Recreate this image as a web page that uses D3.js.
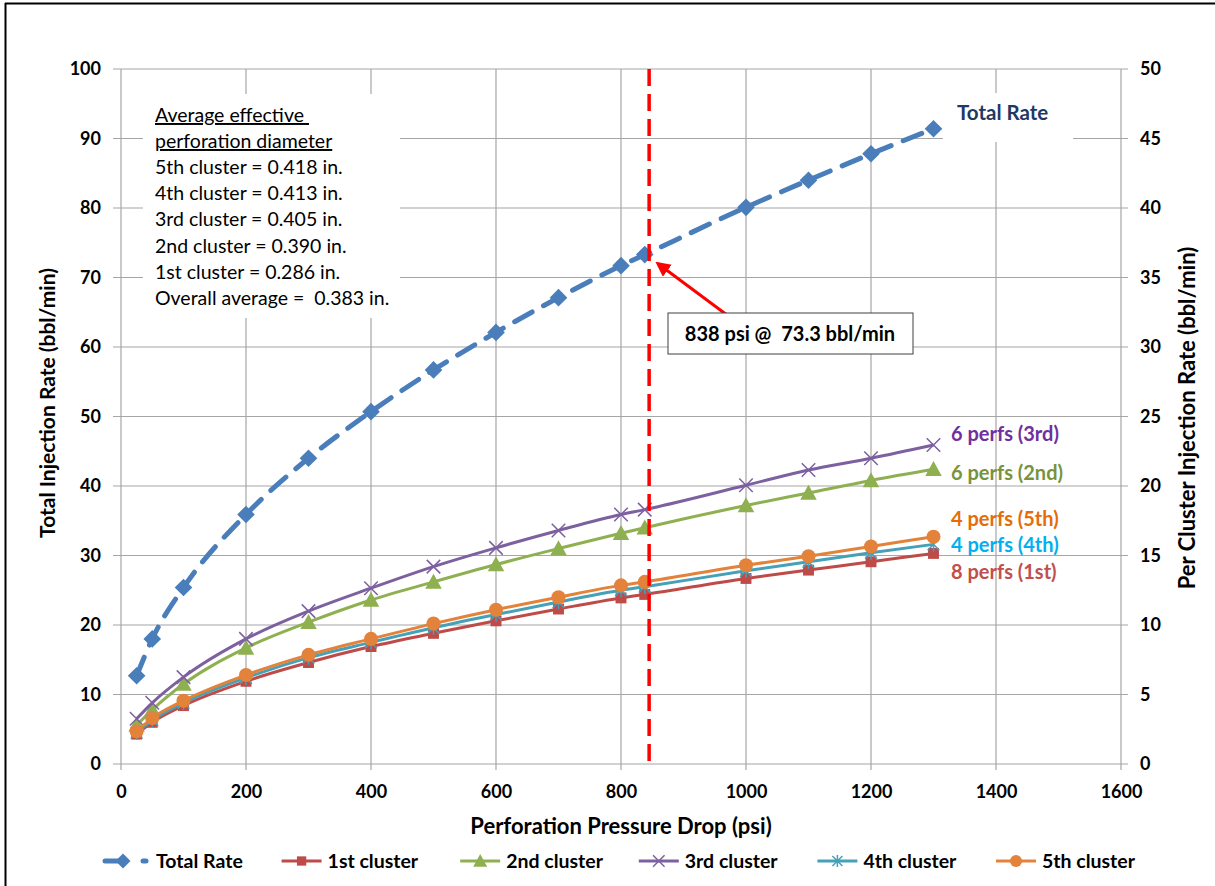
<!DOCTYPE html>
<html lang="en">
<head>
<meta charset="UTF-8">
<title>Perforation Pressure Drop vs Injection Rate</title>
<style>
body {
    margin: 0;
    background-color: #fff;
    font-family: Lato, "Open Sans", sans-serif;
}
text {
    white-space: pre;
}
</style>
</head>
<body>
<div id="plot"></div>
<script src="https://cdn.jsdelivr.net/npm/d3@7"></script>
<script>

const w = 1215,
      h = 886;

// data
const pressure = [25, 50, 100, 200, 300, 400, 500, 600, 700, 800, 838, 1000, 1100, 1200, 1300];
const totalRate = [12.7, 18.0, 25.4, 35.9, 44.0, 50.7, 56.7, 62.1, 67.1, 71.7, 73.3, 80.1, 84.0, 87.8, 91.4];
const cluster1 = [2.15, 3.0, 4.2, 5.95, 7.3, 8.45, 9.4, 10.3, 11.15, 11.95, 12.2, 13.35, 13.95, 14.55, 15.15];
const cluster2 = [2.8, 3.9, 5.75, 8.35, 10.2, 11.8, 13.1, 14.35, 15.5, 16.6, 17.0, 18.6, 19.5, 20.4, 21.2];
const cluster3 = [3.25, 4.4, 6.25, 9.0, 11.0, 12.65, 14.2, 15.55, 16.8, 17.95, 18.3, 20.05, 21.15, 22.0, 22.95];
const cluster4 = [2.25, 3.15, 4.4, 6.2, 7.65, 8.75, 9.8, 10.75, 11.65, 12.5, 12.75, 13.9, 14.55, 15.2, 15.8];
const cluster5 = [2.35, 3.3, 4.55, 6.4, 7.85, 9.0, 10.1, 11.1, 12.0, 12.85, 13.1, 14.3, 14.95, 15.65, 16.35];

const xTicks = [0, 200, 400, 600, 800, 1000, 1200, 1400, 1600];
const yTicks = [0, 10, 20, 30, 40, 50, 60, 70, 80, 90, 100];
const y2Ticks = [0, 5, 10, 15, 20, 25, 30, 35, 40, 45, 50];

const diameterNotes = [
    "5th cluster = 0.418 in.",
    "4th cluster = 0.413 in.",
    "3rd cluster = 0.405 in.",
    "2nd cluster = 0.390 in.",
    "1st cluster = 0.286 in.",
    "Overall average =  0.383 in."
];

const series = [
    {name: "Total Rate", values: totalRate, axis: "left", color: "#4A7EBB", marker: "diamond", dashed: true},
    {name: "1st cluster", values: cluster1, axis: "right", color: "#BE4B48", marker: "square"},
    {name: "2nd cluster", values: cluster2, axis: "right", color: "#8FB050", marker: "triangle"},
    {name: "3rd cluster", values: cluster3, axis: "right", color: "#7D60A0", marker: "x"},
    {name: "4th cluster", values: cluster4, axis: "right", color: "#46A0B8", marker: "asterisk"},
    {name: "5th cluster", values: cluster5, axis: "right", color: "#E3823A", marker: "circle"}
];

const seriesLabels = [
    {text: "6 perfs (3rd)", y: 434, color: "#7030A0"},
    {text: "6 perfs (2nd)", y: 473, color: "#77933C"},
    {text: "4 perfs (5th)", y: 519, color: "#E46C0A"},
    {text: "4 perfs (4th)", y: 545, color: "#00B0F0"},
    {text: "8 perfs (1st)", y: 572, color: "#C0504D"}
];

const markPressure = 845;

// set up svg
const svg = d3.select("#plot").append("svg")
    .attr("width", w)
    .attr("height", h);

// outer frame (only top and left edges show)
svg.append("line").attr("x1", 5).attr("x2", w).attr("y1", 3.5).attr("y2", 3.5)
    .attr("stroke", "#000").attr("stroke-width", 2);
svg.append("line").attr("x1", 5.5).attr("x2", 5.5).attr("y1", 3).attr("y2", h)
    .attr("stroke", "#000").attr("stroke-width", 2);

const x = d3.scaleLinear().domain([0, 1600]).range([121, 1121]);
const y = d3.scaleLinear().domain([0, 100]).range([764, 69]);
const y2 = d3.scaleLinear().domain([0, 50]).range([764, 69]);

// gridlines
const grid = svg.append("g").attr("stroke", "#A6A6A6").attr("stroke-width", 1.2);
grid.selectAll(".vgrid")
    .data(xTicks)
    .join("line")
    .attr("class", "vgrid")
    .attr("x1", d => x(d)).attr("x2", d => x(d))
    .attr("y1", y(100)).attr("y2", y(0) + 6);
grid.selectAll(".hgrid")
    .data(yTicks)
    .join("line")
    .attr("class", "hgrid")
    .attr("x1", x(0) - 8).attr("x2", x(1600) + 7)
    .attr("y1", d => y(d)).attr("y2", d => y(d));

// axes
const axisFont = g => g.selectAll("text")
    .attr("font-family", "Lato, sans-serif")
    .attr("font-size", 18)
    .attr("font-weight", "bold")
    .attr("fill", "#000");

svg.append("g")
    .attr("transform", `translate(0,${y(0)})`)
    .call(d3.axisBottom(x).tickValues(xTicks).tickFormat(d3.format("d")).tickSize(0).tickPadding(21))
    .call(g => g.select(".domain").remove())
    .call(axisFont);

svg.append("g")
    .attr("transform", `translate(${x(0)},0)`)
    .call(d3.axisLeft(y).tickValues(yTicks).tickSize(0).tickPadding(20))
    .call(g => g.select(".domain").remove())
    .call(axisFont);

svg.append("g")
    .attr("transform", `translate(${x(1600)},0)`)
    .call(d3.axisRight(y2).tickValues(y2Ticks).tickSize(0).tickPadding(19))
    .call(g => g.select(".domain").remove())
    .call(axisFont);

// axis titles
svg.append("text")
    .attr("x", 621).attr("y", 834)
    .attr("text-anchor", "middle")
    .attr("font-size", 22).attr("font-weight", "bold")
    .text("Perforation Pressure Drop (psi)");

svg.append("text")
    .attr("transform", "translate(55,403) rotate(-90)")
    .attr("text-anchor", "middle")
    .attr("font-size", 21).attr("font-weight", "bold")
    .text("Total Injection Rate (bbl/min)");

svg.append("text")
    .attr("transform", "translate(1195,418) rotate(-90)")
    .attr("text-anchor", "middle")
    .attr("font-size", 22).attr("font-weight", "bold")
    .text("Per Cluster Injection Rate (bbl/min)");

// notes box top-left
svg.append("rect")
    .attr("x", 143).attr("y", 94).attr("width", 257).attr("height", 224)
    .attr("fill", "#fff");
const notes = svg.append("g").attr("font-size", 19.5).attr("fill", "#000");
notes.append("text").attr("x", 155).attr("y", 122).text("Average effective ")
    .attr("text-decoration", "underline");
notes.append("text").attr("x", 155).attr("y", 148).text("perforation diameter")
    .attr("text-decoration", "underline");
notes.selectAll(".note")
    .data(diameterNotes)
    .join("text")
    .attr("class", "note")
    .attr("x", 155)
    .attr("y", (d, i) => 174 + i * 26.2)
    .text(d => d);

// Total Rate label box
svg.append("rect")
    .attr("x", 943).attr("y", 93).attr("width", 130).attr("height", 49)
    .attr("fill", "#fff");
svg.append("text")
    .attr("x", 957).attr("y", 120)
    .attr("font-size", 20.5).attr("font-weight", "bold")
    .attr("fill", "#1F3864")
    .text("Total Rate");

// marker shapes
function drawMarker(g, type, color, size) {
    const s = size;
    if (type === "diamond") {
        g.append("path").attr("d", d3.symbol(d3.symbolDiamond2, s * s * 0.55)())
            .attr("fill", color);
    } else if (type === "square") {
        g.append("rect").attr("x", -s * 0.42).attr("y", -s * 0.42)
            .attr("width", s * 0.84).attr("height", s * 0.84).attr("fill", color);
    } else if (type === "triangle") {
        g.append("path").attr("d", `M0,${-s * 0.55}L${s * 0.55},${s * 0.45}L${-s * 0.55},${s * 0.45}Z`)
            .attr("fill", color);
    } else if (type === "circle") {
        g.append("circle").attr("r", s * 0.47).attr("fill", color);
    } else if (type === "x") {
        const a = s * 0.45;
        g.append("path").attr("d", `M${-a},${-a}L${a},${a}M${-a},${a}L${a},${-a}`)
            .attr("stroke", color).attr("stroke-width", 1.5).attr("fill", "none");
    } else if (type === "asterisk") {
        const a = s * 0.42;
        g.append("path").attr("d", `M${-a},${-a}L${a},${a}M${-a},${a}L${a},${-a}M0,${-a * 1.2}L0,${a * 1.2}`)
            .attr("stroke", color).attr("stroke-width", 1.5).attr("fill", "none");
    }
}

const markerSize = {diamond: 19, square: 13, triangle: 15, x: 15, asterisk: 14, circle: 15};

// series lines and markers
series.forEach(s => {
    const yy = s.axis === "left" ? y : y2;
    const pts = pressure.map((p, i) => [p, s.values[i]]);
    const line = d3.line()
        .x(d => x(d[0]))
        .y(d => yy(d[1]))
        .curve(d3.curveMonotoneX);

    svg.append("path")
        .datum(pts)
        .attr("d", line)
        .attr("fill", "none")
        .attr("stroke", s.color)
        .attr("stroke-width", s.dashed ? 5 : 3)
        .attr("stroke-linecap", s.dashed ? "round" : "butt")
        .attr("stroke-dasharray", s.dashed ? "20,13" : null);

    const m = svg.append("g");
    pts.forEach(d => {
        const g = m.append("g").attr("transform", `translate(${x(d[0])},${yy(d[1])})`);
        drawMarker(g, s.marker, s.color, markerSize[s.marker]);
    });
});

// series labels
svg.selectAll(".slabel")
    .data(seriesLabels)
    .join("text")
    .attr("class", "slabel")
    .attr("x", 951)
    .attr("y", d => d.y + 7)
    .attr("font-size", 20).attr("font-weight", "bold")
    .attr("fill", d => d.color)
    .text(d => d.text);

// vertical red dashed line
svg.append("line")
    .attr("x1", x(markPressure)).attr("x2", x(markPressure))
    .attr("y1", y(100)).attr("y2", y(0))
    .attr("stroke", "#FF0000")
    .attr("stroke-width", 3.5)
    .attr("stroke-dasharray", "17,8");

// annotation arrow and box
svg.append("defs").append("marker")
    .attr("id", "arrow")
    .attr("viewBox", "0 0 10 10")
    .attr("refX", 8).attr("refY", 5)
    .attr("markerWidth", 5).attr("markerHeight", 5)
    .attr("orient", "auto")
    .append("path").attr("d", "M0,0L10,5L0,10Z").attr("fill", "#FF0000");

svg.append("line")
    .attr("x1", 727).attr("y1", 315)
    .attr("x2", x(838) + 13).attr("y2", y(73.3) + 9)
    .attr("stroke", "#FF0000").attr("stroke-width", 3)
    .attr("marker-end", "url(#arrow)");

svg.append("rect")
    .attr("x", 668).attr("y", 313).attr("width", 245).attr("height", 41)
    .attr("fill", "#fff").attr("stroke", "#404040").attr("stroke-width", 1);
svg.append("text")
    .attr("x", 790).attr("y", 341)
    .attr("text-anchor", "middle")
    .attr("font-size", 20).attr("font-weight", "bold")
    .text("838 psi @  73.3 bbl/min");

// legend
const legend = svg.append("g");
series.forEach((s, i) => {
    const x0 = 103 + i * 178.6;
    const g = legend.append("g").attr("transform", `translate(${x0},861)`);
    if (s.dashed) {
        g.append("line").attr("x1", 2).attr("x2", 22).attr("stroke", s.color)
            .attr("stroke-width", 5).attr("stroke-linecap", "round");
        g.append("line").attr("x1", 40).attr("x2", 43).attr("stroke", s.color)
            .attr("stroke-width", 5).attr("stroke-linecap", "round");
    } else {
        g.append("line").attr("x1", 0).attr("x2", 40).attr("stroke", s.color).attr("stroke-width", 3);
    }
    const mg = g.append("g").attr("transform", "translate(20,0)");
    drawMarker(mg, s.marker, s.color, markerSize[s.marker] * 0.85);
    g.append("text")
        .attr("x", s.dashed ? 53 : 46).attr("y", 7)
        .attr("font-size", 19.5).attr("font-weight", "bold")
        .text(s.name);
});

</script>
</body>
</html>
